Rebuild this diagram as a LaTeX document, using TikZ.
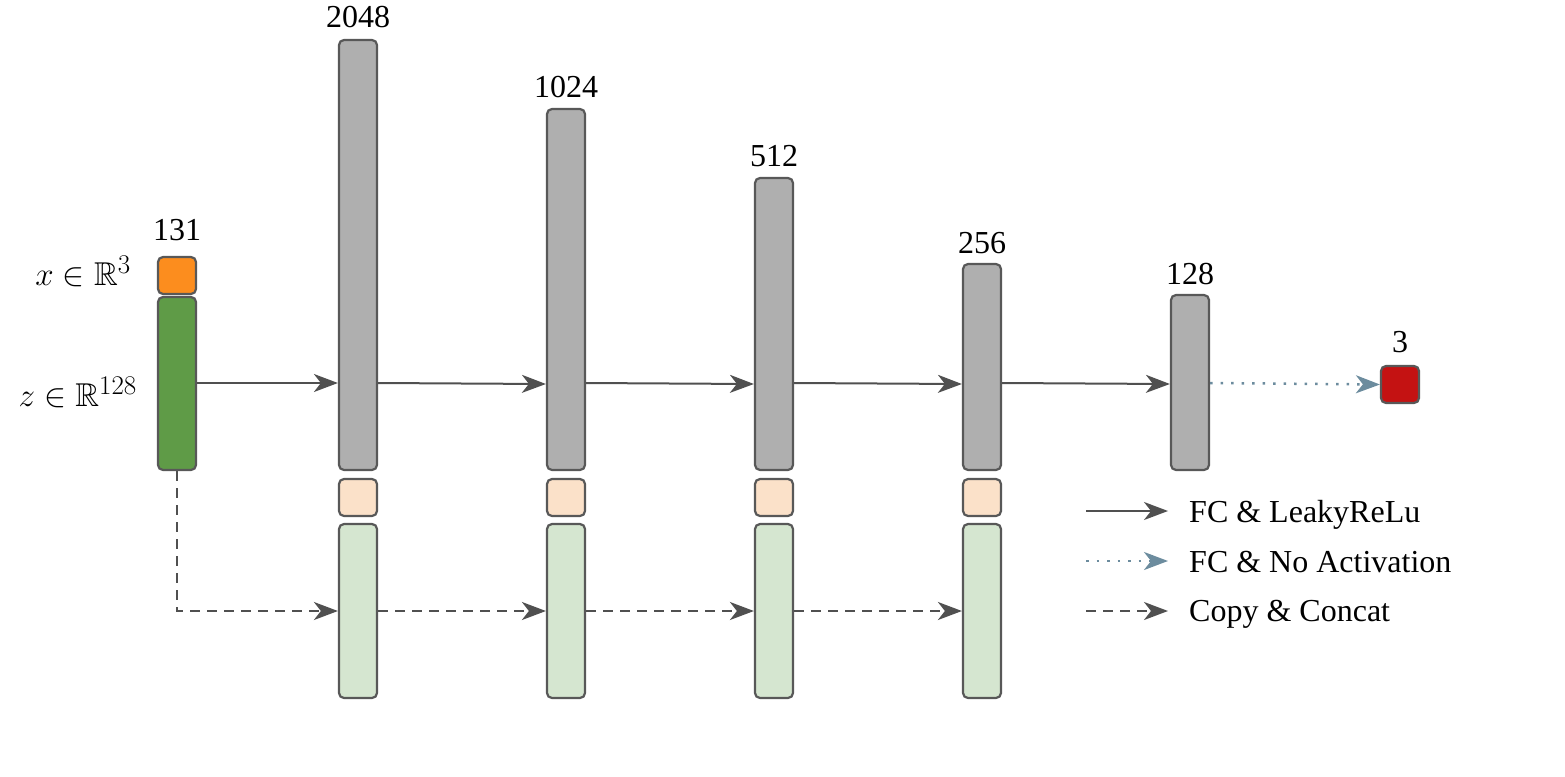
\RequirePackage{fix-cm}
\documentclass[tikz,border=0pt]{standalone}
\usepackage{amssymb}
\usepackage[no-math]{fontspec}
\setmainfont{Liberation Serif}
\usetikzlibrary{arrows.meta}
\DeclareMathSizes{33}{33}{27}{22}
\definecolor{edgec}{HTML}{585858}
\definecolor{arrc}{HTML}{505050}
\definecolor{grayfill}{HTML}{AFAFAF}
\definecolor{orangefill}{HTML}{FC8D1E}
\definecolor{greenfill}{HTML}{5F9B47}
\definecolor{peachfill}{HTML}{FBE1C9}
\definecolor{lgreenfill}{HTML}{D5E6D0}
\definecolor{redfill}{HTML}{C41212}
\definecolor{dotc}{HTML}{6C8C9E}
\tikzset{
  blockbox/.style={draw=edgec, line width=2.2pt, rounded corners=5pt, inner sep=0pt, minimum width=38pt},
  lbl/.style={font=\fontsize{32}{36}\selectfont, anchor=base, inner sep=0pt},
  mlbl/.style={font=\fontsize{33}{36}\selectfont, anchor=base east, inner sep=0pt},
  tipstyle/.style={-{Stealth[length=24pt, width=18pt, inset=7pt, sep=0pt]}},
  fcarrow/.style={tipstyle, draw=arrc, line width=2pt},
  dotarrow/.style={tipstyle, draw=dotc, line width=2.5pt, dash pattern=on 2.5pt off 8pt},
  dasharrow/.style={tipstyle, draw=arrc, line width=2.2pt, dash pattern=on 10pt off 7pt}
}
\begin{document}
\begin{tikzpicture}[x=1pt, y=-1pt]
\useasboundingbox (0,0) rectangle (1565,776);
% input
\node[blockbox, fill=orangefill, minimum height=37pt] (in1) at (177,275.5) {};
\node[blockbox, fill=greenfill, minimum height=173pt] (in2) at (177,383.5) {};
\node[lbl] (l131) at (177,240) {131};
\node[mlbl] (xl) at (131,285) {$x\in\mathbb{R}^3$};
\node[mlbl] (zl) at (137,406) {$z\in\mathbb{R}^{128}$};
% gray columns
\node[blockbox, fill=grayfill, minimum height=430pt] (g1) at (358,255) {};
\node[blockbox, fill=grayfill, minimum height=361pt] (g2) at (566,289.5) {};
\node[blockbox, fill=grayfill, minimum height=292pt] (g3) at (774,324) {};
\node[blockbox, fill=grayfill, minimum height=206pt] (g4) at (982,367) {};
\node[blockbox, fill=grayfill, minimum height=175pt] (g5) at (1190,382.5) {};
\node[blockbox, fill=redfill, minimum height=37pt] (out) at (1400,384.5) {};
\node[lbl] (l2048) at (358,28) {2048};
\node[lbl] (l1024) at (566,97) {1024};
\node[lbl] (l512) at (774,166) {512};
\node[lbl] (l256) at (982,253) {256};
\node[lbl] (l128) at (1190,284) {128};
\node[lbl] (l3) at (1400,352) {3};
% peach and light green
\foreach \i/\x in {1/358,2/566,3/774,4/982}{
  \node[blockbox, fill=peachfill, minimum height=37pt] (p\i) at (\x,497.5) {};
  \node[blockbox, fill=lgreenfill, minimum height=174pt] (c\i) at (\x,611) {};
}
% FC arrows
\draw[fcarrow] (in2.east |- 0,383) -- (g1.west |- 0,383);
\draw[fcarrow] (g1.east |- 0,383) -- (g2.west |- 0,384);
\draw[fcarrow] (g2.east |- 0,383) -- (g3.west |- 0,384);
\draw[fcarrow] (g3.east |- 0,383) -- (g4.west |- 0,384);
\draw[fcarrow] (g4.east |- 0,383) -- (g5.west |- 0,384);
\draw[dotarrow] (g5.east |- 0,383) -- (out.west);
% copy & concat
\draw[dasharrow] (in2.south) |- (c1.west);
\draw[dasharrow] (c1.east) -- (c2.west);
\draw[dasharrow] (c2.east) -- (c3.west);
\draw[dasharrow] (c3.east) -- (c4.west);
% legend
\coordinate (a1s) at (1086,511);
\coordinate (a1e) at (1168,511);
\coordinate (a2s) at (1086,561);
\coordinate (a2e) at (1168,561);
\coordinate (a3s) at (1086,611);
\coordinate (a3e) at (1168,611);
\draw[fcarrow] (a1s) -- (a1e);
\draw[dotarrow] (a2s) -- (a2e);
\draw[dasharrow] (a3s) -- (a3e);
\node[lbl, anchor=base west] (t1) at (1189,522) {FC \& LeakyReLu};
\node[lbl, anchor=base west] (t2) at (1189,572) {FC \& No Activation};
\node[lbl, anchor=base west] (t3) at (1189,621) {Copy \& Concat};
\end{tikzpicture}
\end{document}
